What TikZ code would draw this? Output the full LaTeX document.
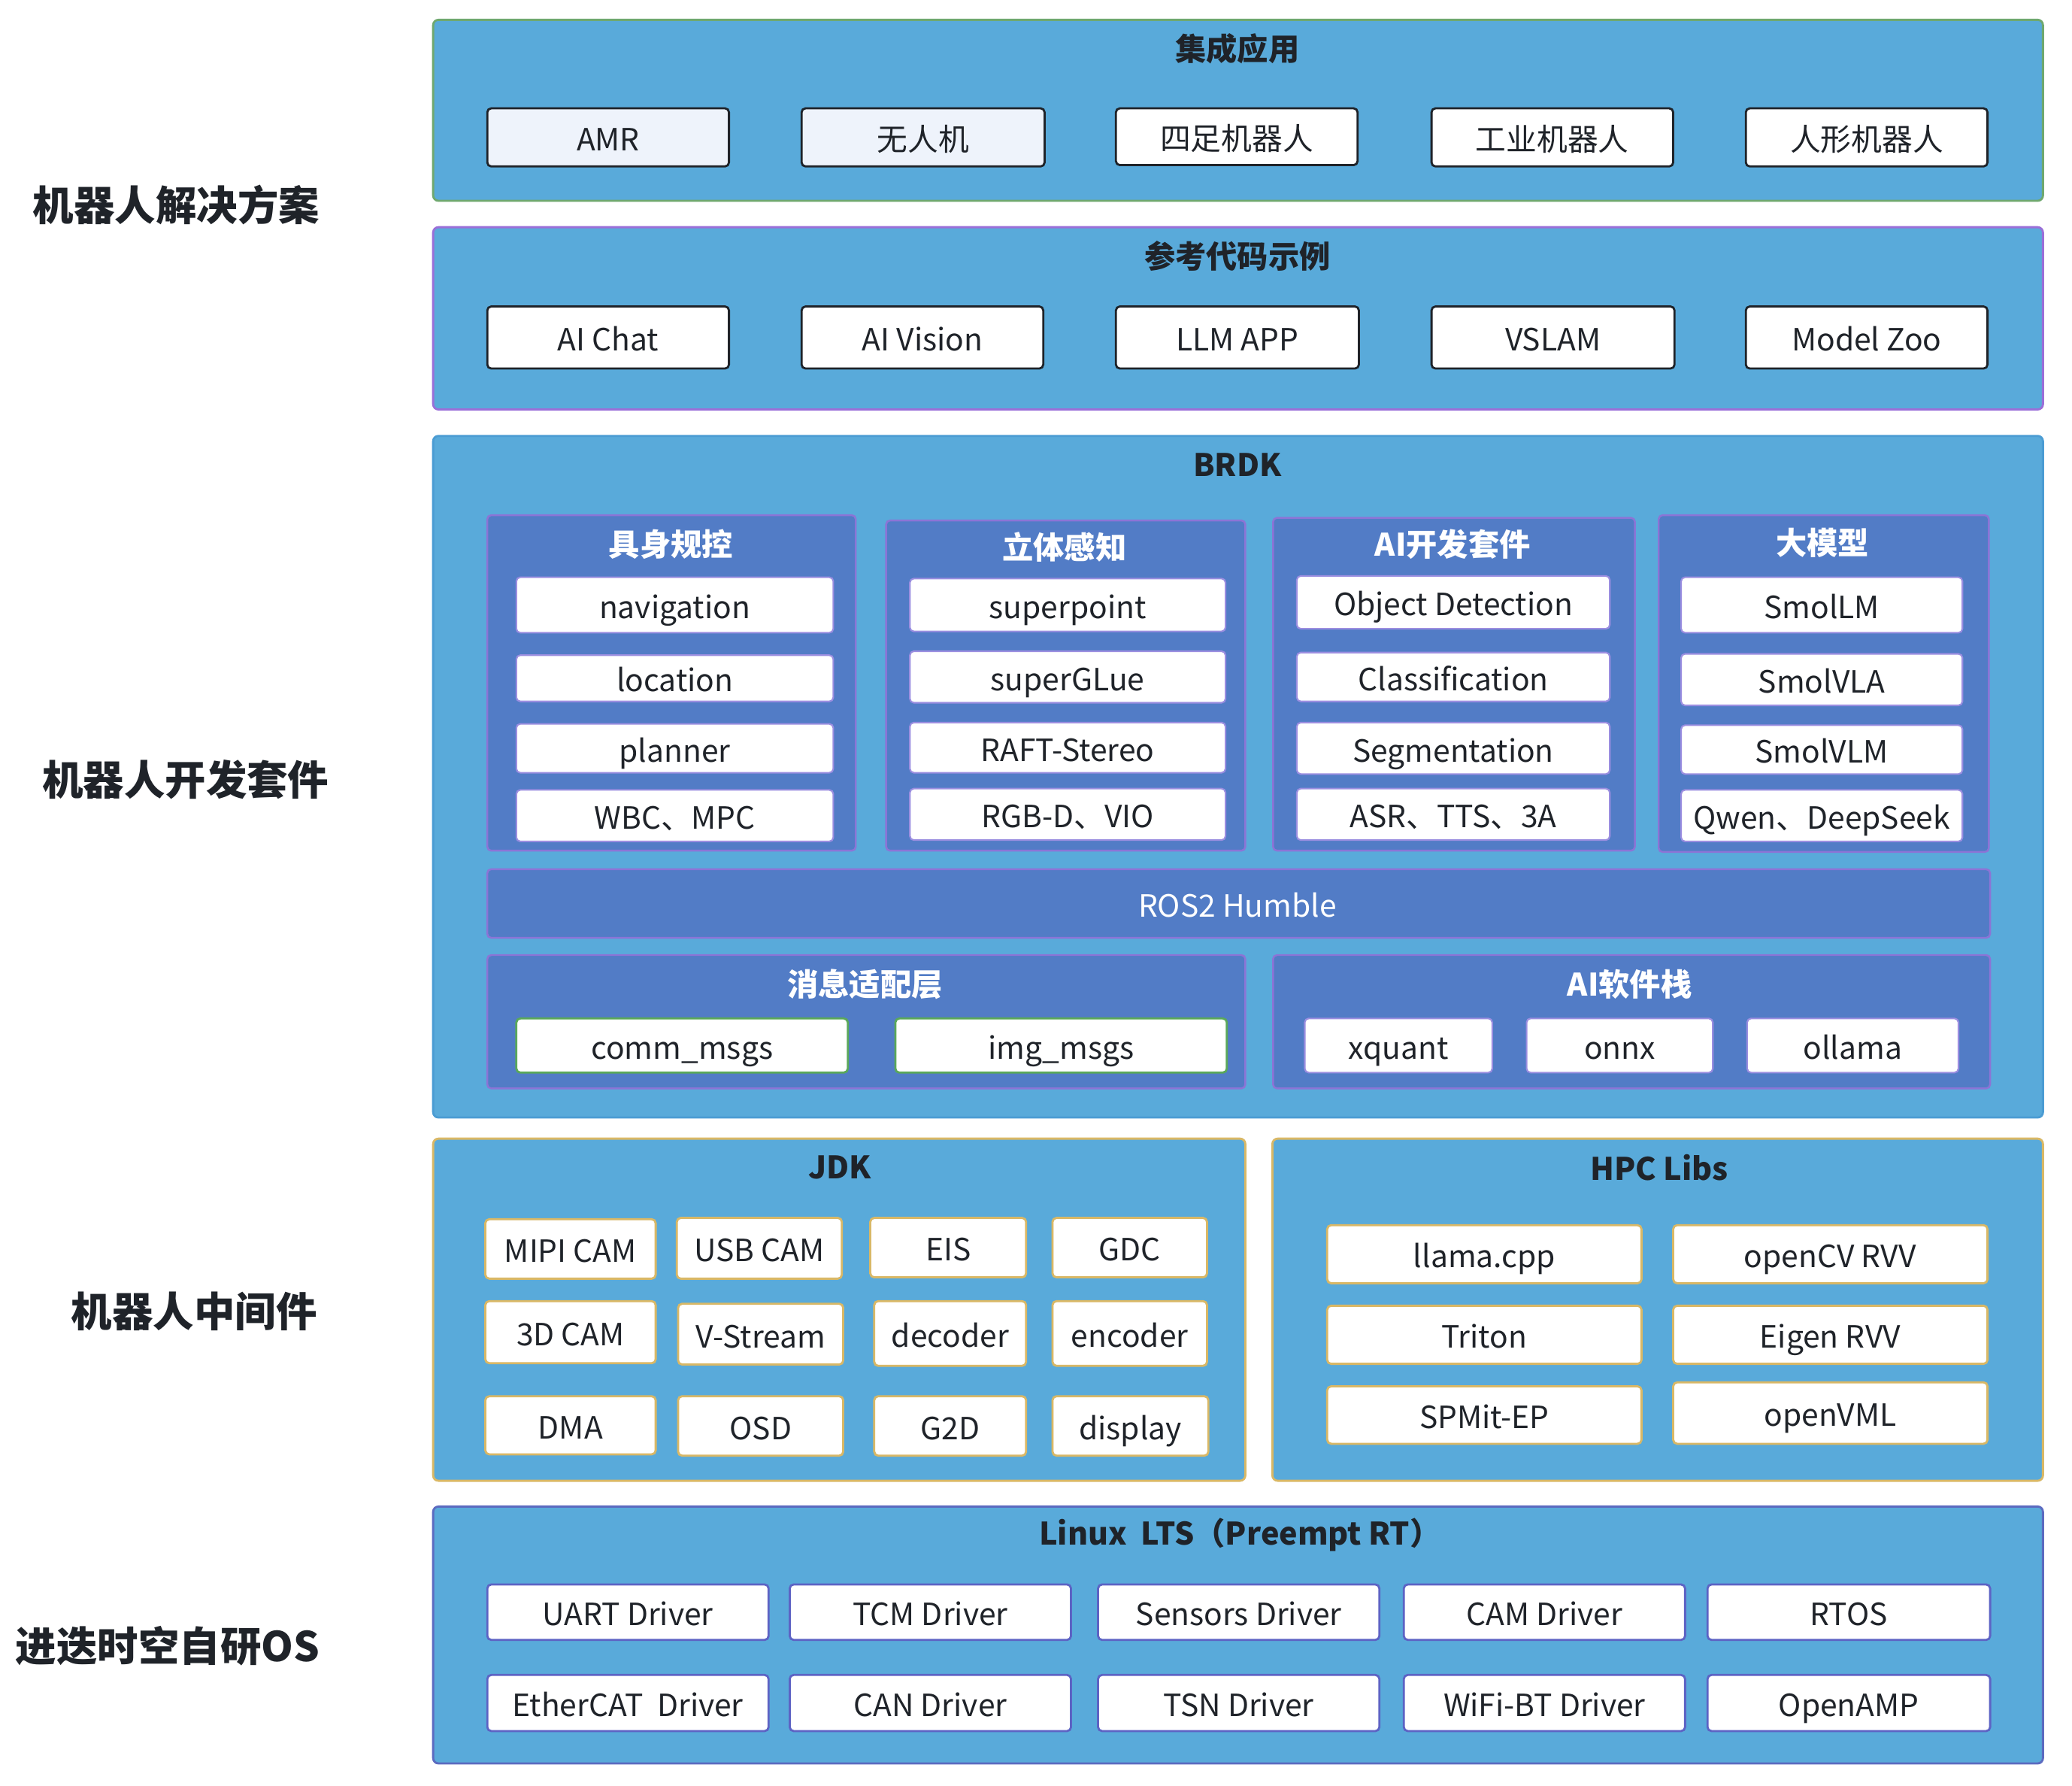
\documentclass[tikz,border=0pt]{standalone}
\usepackage{fontspec}
\setmainfont{Noto Sans CJK SC}
\definecolor{outerfill}{HTML}{59AADA}
\definecolor{grpfill}{HTML}{527CC6}
\definecolor{grpline}{HTML}{8C74D6}
\definecolor{greenline}{HTML}{6FA86F}
\definecolor{purpline}{HTML}{9A6FD8}
\definecolor{blueline}{HTML}{4B9CD3}
\definecolor{goldline}{HTML}{D9B866}
\definecolor{linuxline}{HTML}{5C6BC0}
\definecolor{itemlinux}{HTML}{5D63C4}
\definecolor{lightfill}{HTML}{EEF3FB}
\definecolor{txt}{HTML}{1F2329}
\definecolor{itemgreen}{HTML}{5AA85A}
\definecolor{itempurp}{HTML}{9B8EE0}
\newcommand\itemfont{\fontsize{23.2}{27}\selectfont}
\newcommand\ttlfont{\fontsize{23.5}{28}\selectfont\bfseries}
\newcommand\sidefont{\fontsize{31}{36}\selectfont\bfseries}
\tikzset{
  outerbox/.style={fill=outerfill, rounded corners=4pt, line width=1.6pt},
  grpbox/.style={fill=grpfill, draw=grpline, rounded corners=3pt, line width=1.4pt},
  itembox/.style={fill=white, rounded corners=3pt, line width=1.6pt, inner sep=0pt, outer sep=0pt, text=txt, font=\itemfont, text height=20.4pt, text depth=0pt},
  blackitem/.style={itembox, draw=txt},
  pitem/.style={itembox, draw=itempurp, line width=1.2pt},
  gitem/.style={itembox, draw=itemgreen},
  golditem/.style={itembox, draw=goldline},
  litem/.style={itembox, draw=itemlinux},
  ttl/.style={text=txt, font=\ttlfont, inner sep=0pt},
  wttl/.style={text=white, font=\ttlfont, inner sep=0pt},
  side/.style={text=txt, font=\sidefont, inner sep=0pt},
}
\newcommand\mkbox[7][]{\node[#1, minimum width={#4-#2}, minimum height={#5-#3}] (#6) at ({(#2+#4)/2},{(#3+#5)/2}) {#7};}
\begin{document}
\begin{tikzpicture}[x=1pt,y=-1pt]
\useasboundingbox (0,0) rectangle (1569,1352);
% side labels
\node[side] (s1) at (133.5,155) {机器人解决方案};
\node[side] (s2) at (140.5,590) {机器人开发套件};
\node[side] (s3) at (147,993) {机器人中间件};
\node[side] (s4) at (127,1246) {进迭时空自研OS};
% row 1
\draw[outerbox, draw=greenline] (328,15) rectangle (1547,152);
\node[ttl] (t1) at (937,37) {集成应用};
\mkbox[blackitem, fill=lightfill]{369}{82}{552}{126}{amr}{AMR}
\mkbox[blackitem, fill=lightfill]{607}{82}{791}{126}{uav}{无人机}
\mkbox[blackitem]{845}{82}{1028}{125}{quad}{四足机器人}
\mkbox[blackitem]{1084}{82}{1267}{126}{ind}{工业机器人}
\mkbox[blackitem]{1322}{82}{1505}{126}{hum}{人形机器人}
% row 2
\draw[outerbox, draw=purpline] (328,172) rectangle (1547,310);
\node[ttl] (t2) at (937,194) {参考代码示例};
\mkbox[blackitem]{369}{232}{552}{279}{aichat}{AI Chat}
\mkbox[blackitem]{607}{232}{790}{279}{aivis}{AI Vision}
\mkbox[blackitem]{845}{232}{1029}{279}{llm}{LLM APP}
\mkbox[blackitem]{1084}{232}{1268}{279}{vslam}{VSLAM}
\mkbox[blackitem]{1322}{232}{1505}{279}{zoo}{Model Zoo}
% BRDK
\draw[outerbox, draw=blueline] (328,330) rectangle (1547,846);
\node[ttl] (t3) at (937,352) {BRDK};
% groups
\draw[grpbox] (369,390) rectangle (648,644);
\node[wttl] (g1) at (508,412) {具身规控};
\mkbox[pitem]{391}{437}{631}{479}{nav}{navigation}
\mkbox[pitem]{391}{496}{631}{531}{loc}{location}
\mkbox[pitem]{391}{548}{631}{585}{plan}{planner}
\mkbox[pitem]{391}{598}{631}{637}{wbc}{WBC、MPC}
\draw[grpbox] (671,394) rectangle (943,644);
\node[wttl] (g2) at (806,414) {立体感知};
\mkbox[pitem]{689}{438}{928}{478}{sp}{superpoint}
\mkbox[pitem]{689}{493}{928}{532}{sg}{superGLue}
\mkbox[pitem]{689}{547}{928}{585}{raft}{RAFT-Stereo}
\mkbox[pitem]{689}{597}{928}{636}{rgbd}{RGB-D、VIO}
\draw[grpbox] (964,392) rectangle (1238,644);
\node[wttl] (g3) at (1100,412) {AI开发套件};
\mkbox[pitem]{982}{436}{1219}{476}{od}{Object Detection}
\mkbox[pitem]{982}{494}{1219}{531}{cls}{Classification}
\mkbox[pitem]{982}{547}{1219}{586}{seg}{Segmentation}
\mkbox[pitem]{982}{597}{1219}{636}{asr}{ASR、TTS、3A}
\draw[grpbox] (1256,390) rectangle (1506,645);
\node[wttl] (g4) at (1380,411) {大模型};
\mkbox[pitem]{1273}{437}{1486}{479}{slm}{SmolLM}
\mkbox[pitem]{1273}{495}{1486}{534}{svla}{SmolVLA}
\mkbox[pitem]{1273}{549}{1486}{586}{svlm}{SmolVLM}
\mkbox[pitem]{1273}{598}{1486}{637}{qwen}{Qwen、DeepSeek}
% ROS2
\draw[grpbox] (369,658) rectangle (1507,710);
\node[text=white, font=\itemfont, inner sep=0pt, text height=20.4pt, text depth=0pt] (ros) at (937,684) {ROS2 Humble};
% msg layer
\draw[grpbox] (369,723) rectangle (943,824);
\node[wttl] (g5) at (655,745) {消息适配层};
\mkbox[gitem]{391}{771}{642}{812}{comm}{comm\_msgs}
\mkbox[gitem]{678}{771}{929}{812}{img}{img\_msgs}
\draw[grpbox] (964,723) rectangle (1507,824);
\node[wttl] (g6) at (1234,745) {AI软件栈};
\mkbox[pitem]{988}{771}{1130}{812}{xq}{xquant}
\mkbox[pitem]{1156}{771}{1297}{812}{onnx}{onnx}
\mkbox[pitem]{1323}{771}{1483}{812}{oll}{ollama}
% JDK
\draw[outerbox, draw=goldline] (328,862) rectangle (943,1121);
\node[ttl] (t4) at (636,884) {JDK};
\mkbox[golditem]{367.5}{923}{496.5}{968}{mipi}{MIPI CAM}
\mkbox[golditem]{512.5}{922}{637.5}{968}{usb}{USB CAM}
\mkbox[golditem]{659}{922}{777}{967}{eis}{EIS}
\mkbox[golditem]{797}{922}{914}{967}{gdc}{GDC}
\mkbox[golditem]{367.5}{985}{496.5}{1032}{cam3d}{3D CAM}
\mkbox[golditem]{513.5}{987}{638.5}{1033}{vs}{V-Stream}
\mkbox[golditem]{662}{985}{777}{1034}{dec}{decoder}
\mkbox[golditem]{797}{985}{914}{1034}{enc}{encoder}
\mkbox[golditem]{367.5}{1057}{496.5}{1101}{dma}{DMA}
\mkbox[golditem]{513.5}{1057}{638.5}{1102}{osd}{OSD}
\mkbox[golditem]{662}{1057}{777}{1102}{g2d}{G2D}
\mkbox[golditem]{797}{1057}{915}{1102}{disp}{display}
% HPC
\draw[outerbox, draw=goldline] (963.5,862) rectangle (1547,1121);
\node[ttl] (t5) at (1256.5,884) {HPC Libs};
\mkbox[golditem]{1005}{927.5}{1243}{971.5}{llama}{llama.cpp}
\mkbox[golditem]{1267}{927.5}{1505}{971.5}{ocv}{openCV RVV}
\mkbox[golditem]{1005}{988.5}{1243}{1032.5}{triton}{Triton}
\mkbox[golditem]{1267}{988.5}{1505}{1032.5}{eigen}{Eigen RVV}
\mkbox[golditem]{1005}{1049.5}{1243}{1093}{spmit}{SPMit-EP}
\mkbox[golditem]{1267}{1046.5}{1505}{1093}{ovml}{openVML}
% Linux
\draw[outerbox, draw=linuxline] (328,1140.5) rectangle (1547,1335);
\node[ttl] (t6) at (939,1162) {Linux\ \ LTS（Preempt RT）};
\mkbox[litem]{369}{1199.5}{582}{1241.5}{uart}{UART Driver}
\mkbox[litem]{598}{1199.5}{811}{1241.5}{tcm}{TCM Driver}
\mkbox[litem]{831.5}{1199.5}{1044.5}{1241.5}{sens}{Sensors Driver}
\mkbox[litem]{1063}{1199.5}{1276}{1241.5}{camd}{CAM Driver}
\mkbox[litem]{1293}{1199.5}{1507}{1241.5}{rtos}{RTOS}
\mkbox[litem]{369}{1268}{582}{1310.5}{ecat}{EtherCAT\ \ Driver}
\mkbox[litem]{598}{1268}{811}{1310.5}{can}{CAN Driver}
\mkbox[litem]{831.5}{1268}{1044.5}{1310.5}{tsn}{TSN Driver}
\mkbox[litem]{1063}{1268}{1276}{1310.5}{wifi}{WiFi-BT Driver}
\mkbox[litem]{1293}{1268}{1507}{1310.5}{oamp}{OpenAMP}
\end{tikzpicture}
\end{document}
